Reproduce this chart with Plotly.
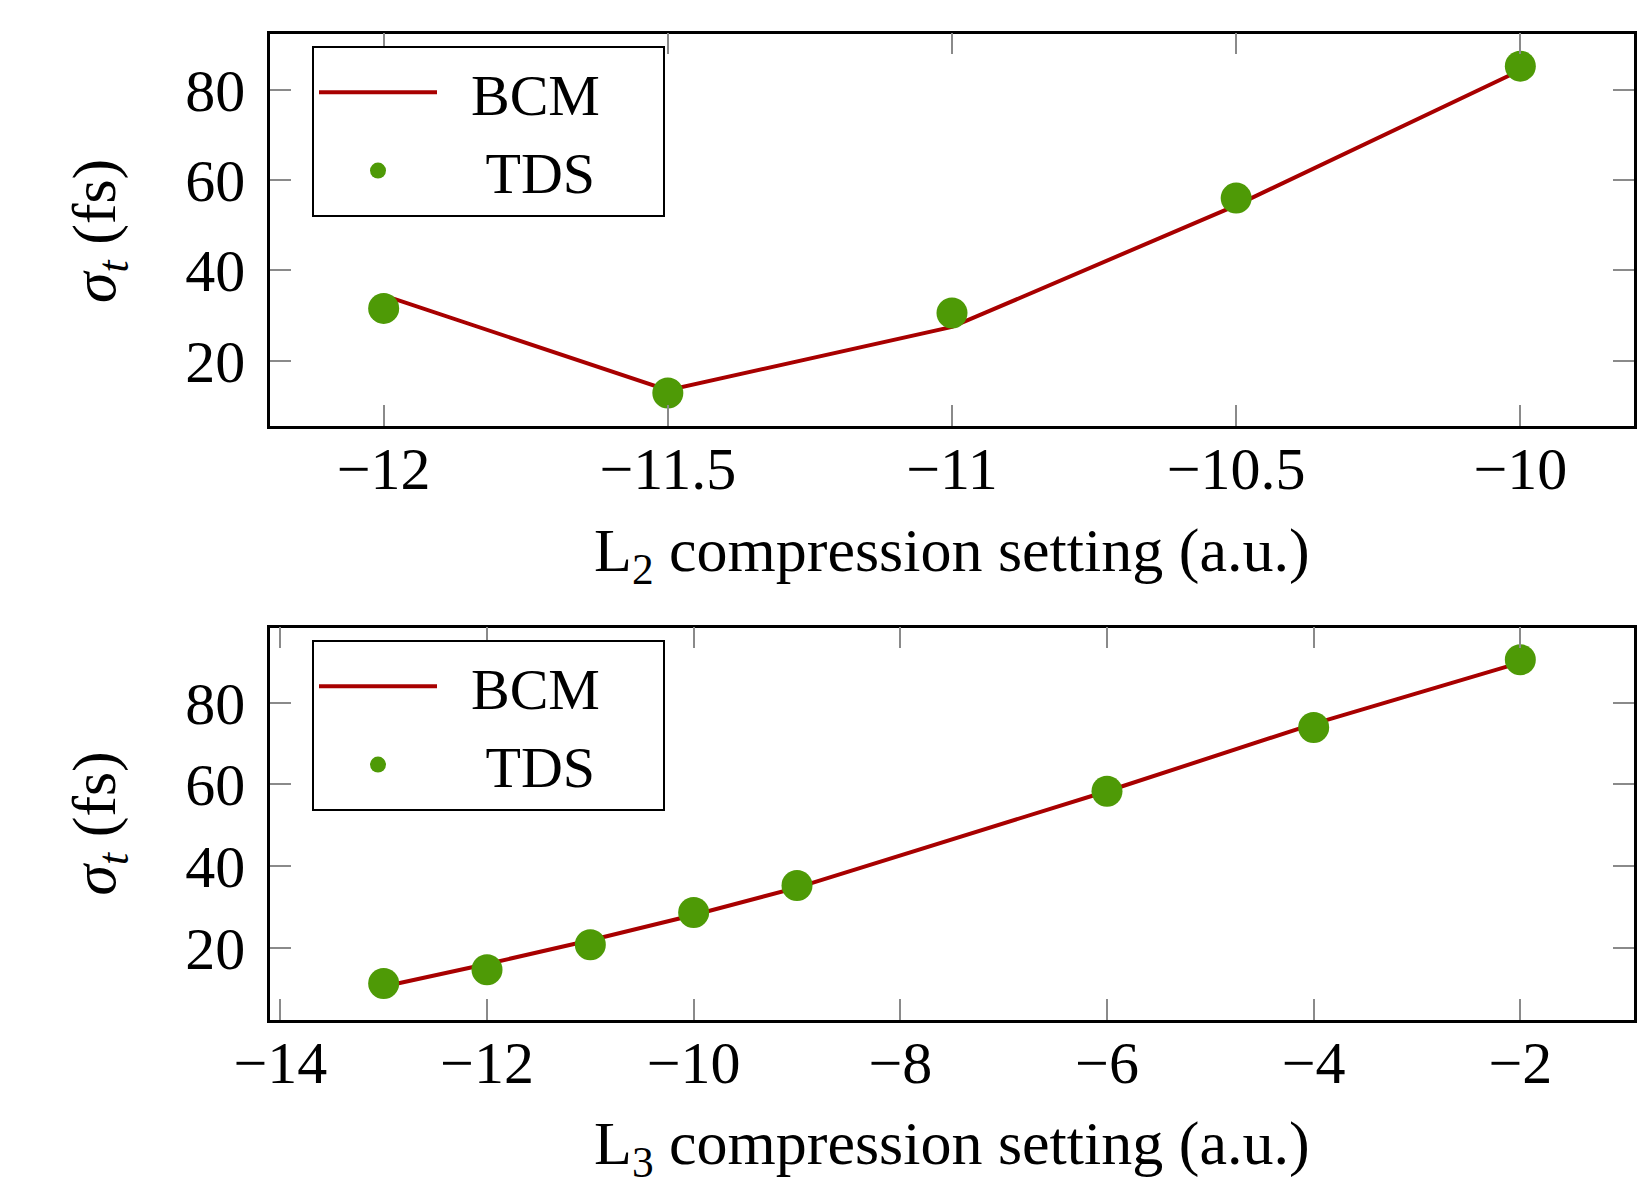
import plotly.graph_objects as go

# ---- data ----
l2_setting = [-12, -11.5, -11, -10.5, -10]
l2_bcm = [34.5, 13.5, 27.5, 54.4, 84.3]
l2_tds = [31.6, 12.9, 30.6, 56.0, 85.2]

l3_setting = [-13, -12, -11, -10, -9, -6, -4, -2]
l3_bcm = [10.5, 16.0, 21.8, 28.0, 34.7, 58.3, 74.8, 89.8]
l3_tds = [11.2, 14.6, 20.7, 28.6, 35.2, 58.3, 73.9, 90.5]

top_xticks = [-12, -11.5, -11, -10.5, -10]
bot_xticks = [-14, -12, -10, -8, -6, -4, -2]
yticks = [20, 40, 60, 80]

series_names = ["BCM", "TDS"]
top_xtitle = "L<sub>2</sub> compression setting (a.u.)"
bot_xtitle = "L<sub>3</sub> compression setting (a.u.)"
ytitle = "<i>σ</i><sub><i>t</i></sub> (fs)"

# ---- style ----
FONT = "Liberation Serif, Times New Roman, serif"
LINE_COLOR = "#A80000"
DOT_COLOR = "#4E9A06"
TICK_COLOR = "#8a8a8a"
W, H = 1648, 1179
NB = "\u00a0"
bcm_label = NB * 2 + series_names[0] + NB * 4
tds_label = NB * 3 + series_names[1]

fig = go.Figure()

fig.add_trace(go.Scatter(x=l2_setting, y=l2_bcm, mode="lines", name=bcm_label,
                         line=dict(color=LINE_COLOR, width=4),
                         xaxis="x", yaxis="y", legend="legend"))
fig.add_trace(go.Scatter(x=l2_setting, y=l2_tds, mode="markers", name=tds_label,
                         marker=dict(color=DOT_COLOR, size=31, line=dict(width=0)),
                         xaxis="x", yaxis="y", legend="legend"))
fig.add_trace(go.Scatter(x=l3_setting, y=l3_bcm, mode="lines", name=bcm_label,
                         line=dict(color=LINE_COLOR, width=4),
                         xaxis="x2", yaxis="y2", legend="legend2"))
fig.add_trace(go.Scatter(x=l3_setting, y=l3_tds, mode="markers", name=tds_label,
                         marker=dict(color=DOT_COLOR, size=31, line=dict(width=0)),
                         xaxis="x2", yaxis="y2", legend="legend2"))

xdom = [270 / W, 1634 / W]
ydom_top = [1 - 425.7 / H, 1 - 33.6 / H]
ydom_bot = [1 - 1019.5 / H, 1 - 627.5 / H]
xmid = (xdom[0] + xdom[1]) / 2

common_axis = dict(
    showgrid=False, zeroline=False, showline=True, linecolor="black", linewidth=2.5,
    mirror="ticks", ticks="inside", ticklen=21, tickwidth=1.5, tickcolor=TICK_COLOR,
    tickfont=dict(family=FONT, size=60, color="black"), automargin=False,
)

legend_style = dict(xanchor="left", yanchor="top", bgcolor="white",
                    bordercolor="black", borderwidth=2, itemwidth=118,
                    font=dict(family=FONT, size=58, color="black"))

fig.update_layout(
    width=W, height=H,
    margin=dict(l=0, r=0, t=0, b=0),
    paper_bgcolor="white", plot_bgcolor="white",
    font=dict(family=FONT, color="black"),
    xaxis=dict(domain=xdom, anchor="y", range=[-12.2, -9.8],
               tickvals=top_xticks, ticklabelstandoff=-11, **common_axis),
    yaxis=dict(domain=ydom_top, anchor="x", range=[5.65, 92.4],
               tickvals=yticks, ticklabelstandoff=10, **common_axis),
    xaxis2=dict(domain=xdom, anchor="y2", range=[-14.1, -0.9],
                tickvals=bot_xticks, ticklabelstandoff=-11, **common_axis),
    yaxis2=dict(domain=ydom_bot, anchor="x2", range=[2.4, 98.4],
                tickvals=yticks, ticklabelstandoff=10, **common_axis),
    legend=dict(x=312 / W, y=1 - 46 / H, **legend_style),
    legend2=dict(x=312 / W, y=1 - 640 / H, **legend_style),
    annotations=[
        dict(text=top_xtitle, xref="paper", yref="paper", x=xmid, y=1 - 554 / H,
             xanchor="center", yanchor="middle", showarrow=False,
             font=dict(family=FONT, size=62, color="black")),
        dict(text=bot_xtitle, xref="paper", yref="paper", x=xmid, y=1 - 1147 / H,
             xanchor="center", yanchor="middle", showarrow=False,
             font=dict(family=FONT, size=62, color="black")),
        dict(text=ytitle, xref="paper", yref="paper", x=98 / W, y=1 - 231 / H,
             xanchor="center", yanchor="middle", showarrow=False, textangle=-90,
             font=dict(family=FONT, size=62, color="black")),
        dict(text=ytitle, xref="paper", yref="paper", x=98 / W, y=1 - 823.5 / H,
             xanchor="center", yanchor="middle", showarrow=False, textangle=-90,
             font=dict(family=FONT, size=62, color="black")),
    ],
)

fig.write_html("out.html", config={"displayModeBar": False},
               post_script="document.body.style.margin='0';document.body.style.overflow='hidden';")
